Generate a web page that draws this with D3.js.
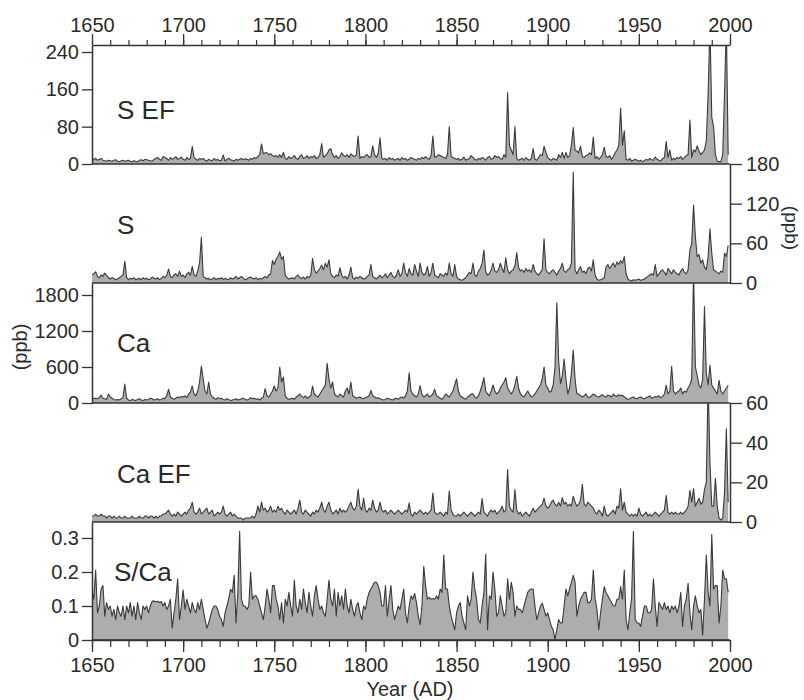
<!DOCTYPE html>
<html>
<head>
<meta charset="utf-8">
<script src="https://cdn.jsdelivr.net/npm/d3@7"></script>
<style>
  body { margin: 0; background: #fff; }
  svg text { font-family: "Liberation Sans", Arial, Helvetica, sans-serif; fill: #2a2a2a; }
</style>
</head>
<body>
<svg id="chart" width="804" height="700"></svg>
<script>
// annual values, 1650 .. 1999, one row per decade
const firstYear = 1650;
const lastYear = 1999;
const yearTicks = [1650, 1700, 1750, 1800, 1850, 1900, 1950, 2000];
const minorYearTicks = d3.range(1650, 2001, 10);

const sEF = [
  14,9,12,8,10,12,8,7,6,8,
  7,6,8,9,6,5,7,8,6,7,
  8,6,5,7,6,5,8,9,7,10,
  9,8,7,6,10,12,14,10,8,16,
  14,12,8,14,10,12,16,10,12,15,
  10,8,14,10,12,38,14,10,8,12,
  10,12,8,6,10,8,7,12,8,10,
  7,8,19,6,10,12,9,8,6,10,
  8,10,12,9,11,10,8,12,10,14,
  12,16,20,43,22,24,24,20,22,18,
  16,18,14,20,14,25,12,10,16,12,
  14,18,12,10,16,20,12,14,18,12,
  16,14,18,12,14,20,44,14,18,22,
  30,33,20,14,18,12,16,24,18,16,
  20,14,22,18,16,20,60,12,16,14,
  18,20,14,16,39,20,14,22,56,12,
  10,12,8,14,10,12,8,10,12,8,
  14,10,12,8,10,14,12,10,8,12,
  10,14,12,16,12,10,18,60,14,16,
  20,18,16,14,12,20,80,16,14,12,
  10,12,8,10,15,8,10,12,18,14,
  10,8,12,10,14,12,8,14,16,10,
  12,18,14,16,12,10,20,14,153,40,
  30,20,80,12,8,10,12,8,14,10,
  8,12,33,10,8,14,20,18,38,25,
  14,10,8,12,10,8,20,14,25,12,
  25,14,18,40,78,30,28,24,38,16,
  14,18,20,24,20,58,12,16,10,14,
  20,36,16,14,18,10,16,24,30,40,
  120,40,71,10,8,12,6,8,10,8,
  6,8,5,7,10,8,12,9,8,15,
  10,8,6,12,14,48,14,30,8,12,
  10,14,12,16,10,14,18,20,94,14,
  30,26,39,28,20,25,30,50,150,300,
  100,80,20,6,5,5,20,150,300,20
];

const sPpb = [
  12,14,17,10,8,12,10,15,12,8,
  6,8,7,5,6,8,10,12,33,8,
  5,7,6,8,5,6,7,5,8,6,
  7,5,6,9,7,6,8,5,7,10,
  8,12,21,10,8,12,14,10,18,10,
  12,8,14,16,12,25,12,10,18,30,
  69,10,8,6,7,5,6,8,5,7,
  6,8,5,7,6,5,8,6,7,10,
  6,8,10,7,5,6,8,9,7,6,
  8,5,7,6,8,10,8,12,14,34,
  28,36,40,47,36,40,12,8,6,7,
  8,6,10,12,8,7,9,6,10,8,
  12,37,20,15,18,22,27,20,30,24,
  35,14,10,8,12,10,23,12,8,10,
  6,12,24,8,6,9,7,10,8,6,
  7,10,12,28,10,8,6,9,12,8,
  10,14,8,12,16,10,8,12,20,10,
  14,30,16,10,22,14,12,28,18,10,
  30,16,12,14,25,10,16,30,12,10,
  8,14,12,10,15,12,30,14,10,28,
  10,6,5,4,6,8,12,16,14,30,
  12,10,18,22,30,50,16,12,14,20,
  30,18,16,20,30,22,16,38,20,14,
  18,20,26,46,24,18,20,16,22,18,
  20,16,28,18,14,12,16,20,67,20,
  16,14,18,20,16,12,18,22,30,18,
  16,20,22,30,168,20,14,20,25,16,
  18,14,22,24,18,35,12,6,4,5,
  6,8,24,28,22,26,30,24,32,28,
  34,30,40,14,6,4,3,5,4,5,
  6,4,5,6,8,10,12,14,12,28,
  10,14,18,20,16,12,22,18,14,20,
  16,14,12,18,22,16,14,20,50,60,
  118,70,40,43,30,35,24,20,40,82,
  45,20,18,16,14,18,16,45,40,57
];

const caPpb = [
  80,75,80,70,90,130,80,70,60,150,
  100,80,60,50,60,50,70,90,316,80,
  50,40,60,50,40,60,70,50,40,60,
  50,60,80,70,50,60,70,50,60,80,
  70,120,228,100,80,60,80,100,90,110,
  100,120,90,150,180,283,150,120,200,350,
  616,400,200,150,350,150,100,80,60,90,
  70,80,60,50,70,60,40,50,60,70,
  50,60,70,80,60,50,60,90,70,80,
  60,70,50,80,100,239,120,100,150,200,
  283,200,250,600,350,433,120,80,60,70,
  80,60,100,120,150,110,90,120,80,100,
  120,283,150,120,100,150,200,250,300,661,
  400,250,350,150,120,100,150,120,100,200,
  250,150,350,120,100,80,90,100,80,70,
  90,100,120,211,120,100,80,90,70,60,
  50,60,80,70,60,50,70,80,60,90,
  100,80,120,200,505,200,150,120,100,150,
  289,150,100,120,150,100,120,150,228,120,
  100,80,60,100,150,120,100,150,200,300,
  405,200,120,100,80,60,100,120,150,155,
  100,80,120,200,300,422,200,150,120,200,
  300,200,150,180,250,300,350,422,250,200,
  150,200,300,444,250,150,120,100,150,200,
  150,100,120,150,200,250,300,400,600,300,
  250,180,200,300,600,1672,700,320,450,733,
  400,150,250,500,883,400,150,150,120,100,
  120,150,100,90,120,150,130,110,100,120,
  140,110,100,130,120,100,150,120,110,140,
  120,130,100,80,60,70,90,100,80,70,
  90,100,80,70,90,100,120,80,90,110,
  100,120,90,110,150,294,150,200,611,200,
  150,180,200,250,150,200,180,250,300,400,
  2200,600,460,300,250,400,1606,500,300,628,
  300,250,200,150,378,200,150,200,250,294
];

const caEF = [
  3,3,4,3,3,4,3,3,2,3,
  3,2,3,2,2,3,2,2,3,2,
  2,2,3,2,2,2,3,2,2,3,
  3,2,3,3,2,3,2,3,3,4,
  4,5,6,4,3,4,3,5,4,3,
  4,5,4,6,7,10,5,4,5,7,
  4,5,6,7,4,5,6,3,4,5,
  4,5,8,4,3,4,5,3,4,3,
  2,2,2,1,2,2,2,2,3,2,
  4,8,5,10,6,7,5,6,8,5,
  6,5,8,6,7,5,4,6,5,4,
  5,6,4,7,11,5,4,6,5,4,
  3,5,4,6,5,7,10,6,5,8,
  10,6,4,5,6,4,7,5,6,5,
  6,8,10,7,6,8,16.5,8,6,12,
  6,5,7,6,11,7,5,6,10,6,
  5,6,4,5,6,5,4,5,6,5,
  4,5,6,5,9.6,4,3,5,4,5,
  6,5,4,5,4,5,6,14.6,5,4,
  4,5,4,3,5,4,15.6,6,4,3,
  3,4,3,4,5,4,3,4,5,4,
  3,4,5,4,11.8,5,4,3,5,6,
  5,6,4,5,6,8,5,6,26.5,8,
  6,5,16.3,6,4,5,3,4,5,4,
  3,5,7,5,6,7,8,9,12,8,
  7,8,10,11,9,8,10,8,12.3,9,
  10,8,9,8,13,10,8,9,11,19,
  9,8,10,9,8,7,5,4,6,5,
  3,8,4,3,4,5,6,4,8,7,
  16.8,6,10,5,4,3,4,3,4,3,
  7,4,3,4,5,3,4,3,4,5,
  4,3,4,5,6,13.4,5,4,5,4,
  5,4,4,5,4,5,6,8,16,10,
  16.8,8,10,12,9,10,16.3,20,70,30,
  8,8,22,8,2,1,2,15,47,10
];

const sCaRatio = [
  0.147,0.12,0.206,0.08,0.1,0.15,0.16,0.07,0.11,0.09,
  0.1,0.07,0.09,0.06,0.1,0.08,0.07,0.1,0.06,0.1,
  0.08,0.11,0.07,0.1,0.06,0.11,0.08,0.06,0.1,0.09,
  0.1,0.08,0.1,0.114,0.115,0.112,0.114,0.11,0.113,0.1,
  0.11,0.09,0.1,0.12,0.035,0.08,0.12,0.18,0.06,0.1,
  0.147,0.09,0.12,0.1,0.08,0.11,0.09,0.08,0.11,0.09,
  0.12,0.09,0.06,0.035,0.05,0.07,0.09,0.1,0.1,0.09,
  0.07,0.06,0.04,0.08,0.1,0.12,0.15,0.14,0.19,0.05,
  0.14,0.32,0.12,0.1,0.1,0.09,0.1,0.2,0.12,0.13,
  0.13,0.12,0.1,0.08,0.06,0.1,0.15,0.12,0.08,0.16,
  0.16,0.12,0.1,0.06,0.11,0.05,0.12,0.1,0.14,0.1,
  0.07,0.176,0.1,0.08,0.12,0.09,0.15,0.11,0.08,0.14,
  0.1,0.07,0.13,0.16,0.12,0.09,0.1,0.08,0.07,0.12,
  0.176,0.12,0.1,0.15,0.07,0.14,0.1,0.13,0.09,0.15,
  0.1,0.08,0.12,0.09,0.07,0.1,0.11,0.08,0.06,0.1,
  0.09,0.12,0.14,0.15,0.16,0.17,0.17,0.16,0.14,0.1,
  0.1,0.16,0.07,0.12,0.16,0.09,0.06,0.08,0.1,0.09,
  0.12,0.15,0.08,0.05,0.1,0.13,0.12,0.137,0.11,0.07,
  0.045,0.1,0.217,0.16,0.12,0.125,0.12,0.122,0.12,0.13,
  0.12,0.15,0.14,0.25,0.15,0.15,0.1,0.07,0.05,0.03,
  0.08,0.1,0.11,0.07,0.05,0.03,0.13,0.1,0.12,0.2,
  0.15,0.12,0.06,0.05,0.1,0.14,0.253,0.03,0.13,0.12,
  0.2,0.15,0.07,0.08,0.13,0.1,0.07,0.08,0.18,0.12,
  0.17,0.14,0.07,0.1,0.09,0.09,0.08,0.1,0.12,0.14,
  0.147,0.15,0.15,0.1,0.06,0.08,0.1,0.108,0.09,0.07,
  0.08,0.06,0.04,0.03,0.002,0.03,0.06,0.05,0.05,0.1,
  0.15,0.13,0.15,0.17,0.19,0.17,0.07,0.1,0.12,0.13,
  0.14,0.14,0.11,0.11,0.12,0.206,0.12,0.09,0.03,0.08,
  0.12,0.157,0.14,0.13,0.12,0.11,0.1,0.1,0.12,0.12,
  0.157,0.12,0.206,0.06,0.03,0.08,0.12,0.32,0.06,0.05,
  0.05,0.04,0.07,0.1,0.1,0.08,0.08,0.09,0.18,0.1,
  0.04,0.11,0.1,0.09,0.11,0.09,0.1,0.08,0.1,0.09,
  0.1,0.08,0.1,0.14,0.04,0.1,0.12,0.167,0.08,0.03,
  0.1,0.13,0.1,0.08,0.09,0.015,0.12,0.25,0.14,0.1,
  0.31,0.15,0.16,0.16,0.05,0.1,0.206,0.18,0.18,0.14
];

const panelLabels = ["S EF", "S", "Ca", "Ca EF", "S/Ca"];
const panelTickValues = [
  [0, 80, 160, 240],
  [0, 60, 120, 180],
  [0, 600, 1200, 1800],
  [0, 20, 40, 60],
  [0, 0.1, 0.2, 0.3]
];
const panelTop = [255, 180, 2000, 60, 0.347];
const unitLabel = "(ppb)";
const xLabel = "Year (AD)";

// ---- layout
const svg = d3.select("#chart");
const plotLeft = 92, plotRight = 730;
const edges = [45, 164, 283, 403, 522, 640];
const ink = "#333";
const tickFont = 20;

const x = d3.scaleLinear().domain([1650, 2000]).range([plotLeft, plotRight]);
const years = d3.range(firstYear, lastYear + 1);

const panels = [sEF, sPpb, caPpb, caEF, sCaRatio].map((vals, i) => ({
  label: panelLabels[i],
  ticks: panelTickValues[i],
  values: vals,
  side: i % 2 === 0 ? "left" : "right",
  top: edges[i],
  bottom: edges[i + 1],
  max: panelTop[i]
}));

panels.forEach((p, i) => {
  const y = d3.scaleLinear().domain([0, p.max]).range([p.bottom, p.top]);
  const pts = years.map((yr, k) => ({ year: yr, v: p.values[k] }));

  svg.append("clipPath").attr("id", "clip" + i)
    .append("rect")
    .attr("x", plotLeft).attr("y", p.top)
    .attr("width", plotRight - plotLeft).attr("height", p.bottom - p.top);

  const g = svg.append("g").attr("clip-path", "url(#clip" + i + ")");

  g.append("path")
    .datum(pts)
    .attr("fill", "#adadad")
    .attr("d", d3.area().x(d => x(d.year)).y0(y(0)).y1(d => y(d.v)));

  g.append("path")
    .datum(pts)
    .attr("fill", "none")
    .attr("stroke", "#3a3a3a")
    .attr("stroke-width", 1.1)
    .attr("stroke-linejoin", "round")
    .attr("d", d3.line().x(d => x(d.year)).y(d => y(d.v)));

  // baseline of each panel
  svg.append("line")
    .attr("x1", plotLeft).attr("x2", plotRight)
    .attr("y1", p.bottom).attr("y2", p.bottom)
    .attr("stroke", ink).attr("stroke-width", 1.5);

  let axis, ax;
  if (p.side === "left") {
    axis = d3.axisLeft(y).tickValues(p.ticks).tickSize(10).tickPadding(3).tickSizeOuter(0)
      .tickFormat(d => String(d));
    ax = svg.append("g").attr("transform", `translate(${plotLeft},0)`).call(axis);
  } else {
    axis = d3.axisRight(y).tickValues(p.ticks).tickSize(12).tickPadding(4).tickSizeOuter(0)
      .tickFormat(d => String(d));
    ax = svg.append("g").attr("transform", `translate(${plotRight},0)`).call(axis);
  }
  ax.select(".domain").attr("stroke", ink).attr("stroke-width", 1.5);
  ax.selectAll(".tick line").attr("stroke", ink).attr("stroke-width", 1.3);
  ax.selectAll(".tick text").attr("font-size", tickFont).attr("fill", "#2a2a2a")
    .attr("font-family", "'Liberation Sans', Arial, sans-serif");

  svg.append("text")
    .attr("x", i === 4 ? 114 : 117)
    .attr("y", [119, 234, 352, 483, 581][i])
    .attr("font-size", 26)
    .text(p.label);
});

// ---- year axes (top and bottom)
function yearAxis(makeAxis, yPos, major, minor, pad) {
  const gm = svg.append("g").attr("transform", `translate(0,${yPos})`)
    .call(makeAxis(x).tickValues(minorYearTicks).tickSize(minor).tickSizeOuter(0).tickFormat(""));
  gm.select(".domain").attr("stroke", ink).attr("stroke-width", 1.5);
  gm.selectAll(".tick line").attr("stroke", ink).attr("stroke-width", 1.2);
  const gM = svg.append("g").attr("transform", `translate(0,${yPos})`)
    .call(makeAxis(x).tickValues(yearTicks).tickSize(major).tickPadding(pad).tickSizeOuter(0)
      .tickFormat(d3.format("d")));
  gM.select(".domain").remove();
  gM.selectAll(".tick line").attr("stroke", ink).attr("stroke-width", 1.3);
  gM.selectAll(".tick text").attr("font-size", tickFont).attr("fill", "#2a2a2a")
    .attr("font-family", "'Liberation Sans', Arial, sans-serif");
}
yearAxis(d3.axisTop, edges[0], 11, 5, 2);
yearAxis(d3.axisBottom, edges[5], 12, 7, 6);

// ---- unit and axis titles
svg.append("text")
  .attr("transform", "translate(20,347) rotate(-90)")
  .attr("text-anchor", "middle").attr("dy", "0.35em")
  .attr("font-size", 20)
  .text(unitLabel);

svg.append("text")
  .attr("transform", "translate(792,228) rotate(90)")
  .attr("text-anchor", "middle").attr("dy", "0.35em")
  .attr("font-size", 19)
  .text(unitLabel);

svg.append("text")
  .attr("x", 410).attr("y", 696)
  .attr("text-anchor", "middle")
  .attr("font-size", 20)
  .text(xLabel);
</script>
</body>
</html>
